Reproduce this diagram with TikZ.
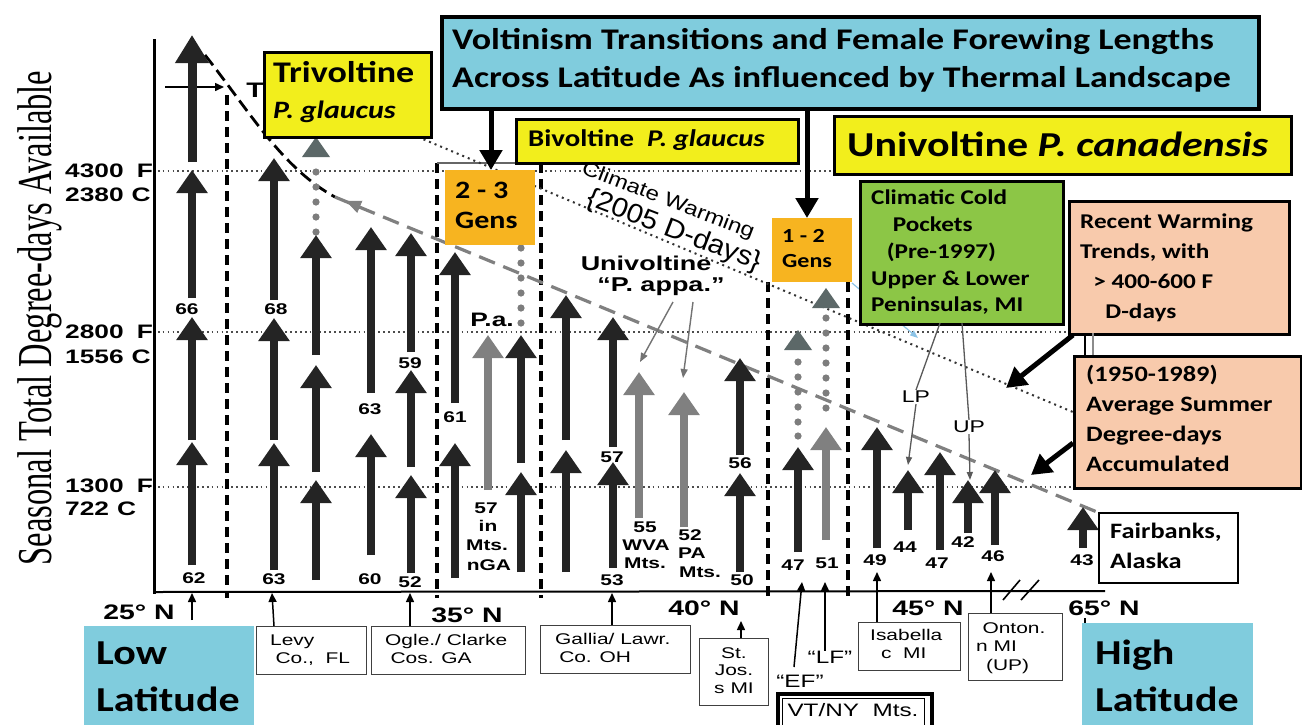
\documentclass[tikz,border=0pt]{standalone}
\usepackage{fontspec}
\usepackage{graphicx}
\setmainfont{Carlito}
\newfontfamily\arialf{Liberation Sans}
\newfontfamily\tnrf{Liberation Serif}
\usetikzlibrary{arrows.meta}
\definecolor{cyanbox}{RGB}{128,204,221}
\definecolor{yelbox}{RGB}{242,238,28}
\definecolor{orgbox}{RGB}{247,180,32}
\definecolor{grnbox}{RGB}{140,198,70}
\definecolor{pchbox}{RGB}{248,202,172}
\definecolor{darkarr}{RGB}{36,36,36}
\definecolor{grayarr}{RGB}{128,128,128}
\definecolor{trigray}{RGB}{92,104,104}
\definecolor{dotgray}{RGB}{125,125,125}
\definecolor{lblue}{RGB}{140,195,230}
\newcommand\fsz[2]{\fontsize{#1}{#2}\selectfont}
\newcommand\os[1]{\scalebox{1.35}[1]{#1}}
\newcommand\ns[1]{\scalebox{1.2}[1]{#1}}
\newcommand\ml[1]{\begin{tabular}{@{}l@{}}#1\end{tabular}}
\newcommand\mc[1]{\begin{tabular}{@{}c@{}}#1\end{tabular}}
\begin{document}
\begin{tikzpicture}[x=1pt,y=-1pt,
  garr/.style={draw=darkarr, line width=8.5pt, -{Triangle[width=30pt,length=23pt]}},
  gyarr/.style={draw=grayarr, line width=8.5pt, -{Triangle[width=30pt,length=23pt]}},
  num/.style={inner sep=0pt, font=\arialf\bfseries\fsz{15.5}{17}},
  oldtxt/.style={inner sep=0pt, font=\arialf\fsz{15.5}{18}},
  boldold/.style={inner sep=0pt, font=\arialf\bfseries\fsz{19.5}{20}},
  txt/.style={inner sep=0pt, anchor=west, font=\bfseries},
  cbox/.style={draw=black, line width=3pt, inner sep=0pt, anchor=north west},
  nbox/.style={inner sep=0pt, anchor=north west},
  lbox/.style={draw=black!75, line width=1.3pt, fill=white, inner sep=0pt, anchor=north west},
  vdash/.style={draw=black, line width=3.2pt, dash pattern=on 10pt off 6pt},
  hdot/.style={draw=black!70, line width=1.7pt, dash pattern=on 1.7pt off 3.2pt},
  cdot/.style={draw=black!80, line width=2pt, dash pattern=on 2pt off 4pt},
  thinarr/.style={draw=black, line width=1.5pt, -{Triangle[width=8pt,length=9pt]}},
  grayptr/.style={draw=black!55, line width=1.4pt, -{Triangle[width=7pt,length=9pt]}},
  bigarr/.style={draw=black, line width=5pt, -{Triangle[width=22pt,length=20pt]}}
]
\useasboundingbox (0,0) rectangle (1302,724);
\fill[white] (0,0) rectangle (1302,724);

% axis label
\node[rotate=90, inner sep=0pt] (ylab) at (40,318) {\tnrf\fsz{32.5}{34}\scalebox{1}[1.5]{Seasonal Total Degree-days Available}};

% horizontal dotted levels
\draw[hdot] (148,171) -- (835,171);
\draw[hdot] (148,332) -- (1092,332);
\draw[hdot] (148,487) -- (1092,487);

% tick labels
\node[boldold, anchor=west] (t4300) at (65,171) {\os{4300\hspace{0.5em}F}};
\node[boldold, anchor=west] (t2380) at (65,195) {\os{2380\hspace{0.3em}C}};
\node[boldold, anchor=west] (t2800) at (65,332) {\os{2800\hspace{0.5em}F}};
\node[boldold, anchor=west] (t1556) at (65,357) {\os{1556\hspace{0.3em}C}};
\node[boldold, anchor=west] (t1300) at (65,486) {\os{1300\hspace{0.5em}F}};
\node[boldold, anchor=west] (t722) at (65,509) {\os{722\hspace{0.3em}C}};

% axes
\draw[line width=3pt] (154,39) -- (154,594);
\draw[line width=2pt] (153,592) -- (1105,591);

% dashed verticals
\draw[vdash] (227,95) -- (227,598);
\draw[vdash] (437,163) -- (437,598);
\draw[vdash] (541,163) -- (541,598);
\draw[draw=black!60, line width=1.5pt] (437,163) -- (541,163);
\draw[vdash] (768,282) -- (768,598);
\draw[vdash] (848,282) -- (848,598);

% thermal boundary curves
\draw[line width=2.8pt, dash pattern=on 13pt off 6pt] (205,55) .. controls (250,112) and (282,168) .. (335,197);
\draw[draw=black!50, line width=3.2pt, dash pattern=on 17pt off 9pt] (335,197) -- (1097,512);
\draw[draw=black!50, line width=1pt, -{Triangle[width=13pt,length=15pt]}] (372,212) -- (346,201);

% climate warming dotted line
\draw[cdot] (418,137) -- (1080,415);

% top small arrow and T
\draw[thinarr] (165,87) -- (224,87);
\node[inner sep=0pt, font=\arialf\bfseries\fsz{21}{22}] (tlet) at (255,90) {\os{T}};

% ---------- generation arrows ----------
% col 1
\draw[draw=darkarr, line width=9pt, -{Triangle[width=32pt,length=28pt]}] (192,162) -- (192,35);
\draw[garr] (192,298) -- (192,170);
\draw[garr] (192,440) -- (192,317);
\draw[garr] (192,565) -- (192,442);
% col 2
\draw[garr] (274,300) -- (274,158);
\draw[garr] (274,440) -- (274,318);
\draw[garr] (274,570) -- (274,443);
% col 3
\fill[trigray] (302,157) -- (330,157) -- (316,137) -- cycle;
\foreach \yy in {172,187,202,217,232} \fill[dotgray] (316,\yy) circle (3.6pt);
\draw[garr] (316,355) -- (316,235);
\draw[garr] (316,472) -- (316,365);
\draw[garr] (316,580) -- (316,480);
% col 4
\draw[garr] (371,393) -- (371,227);
\draw[garr] (371,555) -- (371,434);
% col 5
\draw[garr] (411,352) -- (411,233);
\draw[garr] (411,467) -- (411,370);
\draw[garr] (411,573) -- (411,475);
% col 6
\draw[garr] (455,403) -- (455,252);
\draw[garr] (455,578) -- (455,443);
% col 7 gray
\draw[gyarr] (488,490) -- (488,335);
% col 8
\foreach \yy in {248,263,278,293,308,323} \fill[dotgray] (521,\yy) circle (3.6pt);
\draw[garr] (521,463) -- (521,335);
\draw[garr] (521,572) -- (521,472);
% col 9
\draw[garr] (566,440) -- (566,295);
\draw[garr] (566,572) -- (566,450);
% col 10
\draw[garr] (613,447) -- (613,317);
\draw[garr] (613,568) -- (613,462);
% col 11, 12 gray
\draw[gyarr] (639,518) -- (639,372);
\draw[gyarr] (684,527) -- (684,392);
% col 13
\draw[garr] (740,455) -- (740,358);
\draw[garr] (740,572) -- (740,473);
% col 14
\fill[trigray] (784,350) -- (812,350) -- (798,330) -- cycle;
\foreach \yy in {362,377,392,407,422,436} \fill[dotgray] (798,\yy) circle (3.6pt);
\draw[garr] (798,552) -- (798,447);
% col 15
\fill[trigray] (812,308) -- (840,308) -- (826,288) -- cycle;
\foreach \yy in {318,333,348,363,378,393,408} \fill[dotgray] (826,\yy) circle (3.6pt);
\draw[gyarr] (826,540) -- (826,427);
% cols 16-21
\draw[garr] (877,548) -- (877,427);
\draw[garr] (908,530) -- (908,470);
\draw[garr] (940,550) -- (940,452);
\draw[garr] (968,533) -- (968,480);
\draw[garr] (995,545) -- (995,470);
\draw[garr] (1083,548) -- (1083,507);

% ---------- numbers ----------
\node[num] (n66) at (187,309) {\os{66}};
\node[num] (n62) at (194,578) {\os{62}};
\node[num] (n68) at (276,309) {\os{68}};
\node[num] (n63a) at (274,579) {\os{63}};
\node[num] (n63b) at (370,409) {\os{63}};
\node[num] (n60) at (370,579) {\os{60}};
\node[num] (n59) at (410,363) {\os{59}};
\node[num] (n52a) at (410,582) {\os{52}};
\node[num] (n61) at (455,417) {\os{61}};
\node[num] (n57g) at (486,508) {\os{57}};
\node[num] (nin) at (488,526) {\os{in}};
\node[num] (nmts1) at (487,545) {\os{Mts.}};
\node[num] (nnga) at (489,565) {\os{nGA}};
\node[num] (n57) at (612,457) {\os{57}};
\node[num] (n53) at (612,580) {\os{53}};
\node[num] (n55) at (645,527) {\os{55}};
\node[num] (nwva) at (646,545) {\os{WVA}};
\node[num] (nmts2) at (645,563) {\os{Mts.}};
\node[num] (n52b) at (690,535) {\os{52}};
\node[num] (npa) at (692,553) {\os{PA}};
\node[num] (nmts3) at (700,572) {\os{Mts.}};
\node[num] (n56) at (740,463) {\os{56}};
\node[num] (n50) at (742,580) {\os{50}};
\node[num] (n47a) at (793,565) {\os{47}};
\node[num] (n51) at (827,563) {\os{51}};
\node[num] (n49) at (875,560) {\os{49}};
\node[num] (n44) at (905,547) {\os{44}};
\node[num] (n47b) at (937,563) {\os{47}};
\node[num] (n42) at (963,542) {\os{42}};
\node[num] (n46) at (993,556) {\os{46}};
\node[num] (n43) at (1082,560) {\os{43}};

% ---------- in-plot labels ----------
\node[boldold] (pa) at (492,320) {\os{P.a.}};
\node[boldold, font=\arialf\bfseries\fsz{20}{20}] (univ) at (646,263) {\os{Univoltine}};
\node[boldold, font=\arialf\bfseries\fsz{20}{20}] (pappa) at (661,287) {\os{“P. appa.”}};
\draw[grayptr] (673,302) -- (640,362);
\draw[grayptr] (693,302) -- (683,378);
\node[rotate=-21, inner sep=0pt] (cw) at (668,201) {\arialf\fsz{20}{20}\scalebox{1.2}[1]{Climate Warming}};
\node[rotate=-21, inner sep=0pt] (dd) at (674,231) {\arialf\fsz{27}{28}\scalebox{1.08}[1]{\{2005 D-days\}}};

% ---------- top boxes ----------
\node[cbox, fill=cyanbox, line width=3.5pt, minimum width=817pt, minimum height=92pt] (title) at (440,15) {};
\node[txt] (titletxt) at (452,61) {\fsz{30}{38}\ns{\ml{Voltinism Transitions and Female Forewing Lengths\\Across Latitude As influenced by Thermal Landscape}}};
\draw[bigarr] (491,107) -- (491,170);
\draw[bigarr] (807,107) -- (807,218);

\node[cbox, fill=yelbox, line width=2.5pt, minimum width=167pt, minimum height=85pt] (tri) at (263,51) {};
\node[txt] (tritxt) at (273,93) {\fsz{30}{36}\ns{\ml{Trivoltine\\{\fsz{25}{36}\itshape P. glaucus}}}};

\node[cbox, fill=yelbox, line width=2.5pt, minimum width=282pt, minimum height=44pt] (bi) at (515,118) {};
\node[txt] (bitxt) at (528,140) {\fsz{24}{28}\ns{Bivoltine\ \ {\itshape P. glaucus}}};

\node[cbox, fill=yelbox, line width=3pt, minimum width=457pt, minimum height=58pt] (uni) at (833,115) {};
\node[txt] (unitxt) at (847,144) {\fsz{35}{40}\ns{Univoltine {\itshape P. canadensis}}};

\node[nbox, fill=orgbox, minimum width=90pt, minimum height=75pt] (g23) at (445,170) {};
\node[txt] (g23txt) at (455,207) {\fsz{25}{30}\ns{\ml{2 - 3\\Gens}}};

\node[nbox, fill=orgbox, minimum width=80pt, minimum height=64pt] (g12) at (772,218) {};
\node[txt] (g12txt) at (782,250) {\fsz{20}{25}\ns{\ml{1 - 2\\Gens}}};

% green box and its pointers
\draw[draw=lblue, line width=1.2pt, -{Triangle[width=6pt,length=8pt]}] (852,283) -- (918,338);
\node[cbox, fill=grnbox, line width=2.5pt, minimum width=203pt, minimum height=143pt] (green) at (859,180) {};
\node[txt] (greentxt) at (871,253) {\fsz{21}{26.7}\ns{\ml{Climatic Cold\\\hspace{18pt}Pockets\\\hspace{13pt}(Pre-1997)\\Upper \& Lower\\Peninsulas, MI}}};
\node[inner sep=1pt, font=\arialf\fsz{17}{18}] (lp) at (916,397) {\os{LP}};
\node[inner sep=1pt, font=\arialf\fsz{17}{18}] (up) at (969,427) {\os{UP}};
\draw[draw=black!65, line width=1.3pt] (940,323) -- (lp.north);
\draw[draw=black!65, line width=1.3pt, -{Triangle[width=6pt,length=8pt]}] (lp.south) -- (908,465);
\draw[draw=black!65, line width=1.3pt] (962,323) -- (up.north);
\draw[draw=black!65, line width=1.3pt, -{Triangle[width=6pt,length=8pt]}] (up.south) -- (970,480);

% peach boxes
\node[cbox, fill=pchbox, minimum width=220pt, minimum height=133pt] (recent) at (1068,200) {};
\node[txt] (recenttxt) at (1080,267) {\fsz{21}{30}\ns{\ml{Recent Warming\\Trends, with\\\hspace{11pt}> 400-600 F\\\hspace{21pt}D-days}}};
\draw[line width=1.5pt] (1085,333) -- (1085,355);
\draw[draw=black!45, line width=1.2pt] (1093,333) -- (1093,355);
\node[cbox, fill=pchbox, minimum width=227pt, minimum height=132pt] (avg) at (1073,355) {};
\node[txt] (avgtxt) at (1086,420) {\fsz{22}{30}\ns{\ml{(1950-1989)\\Average Summer\\Degree-days\\Accumulated}}};
\draw[bigarr] (1073,335) -- (1006,388);
\draw[bigarr] (1073,443) -- (1031,475);

\node[cbox, fill=white, line width=2pt, minimum width=139pt, minimum height=70pt] (fair) at (1098,512) {};
\node[txt] (fairtxt) at (1110,547) {\fsz{22}{30}\ns{\ml{Fairbanks,\\Alaska}}};

% ---------- bottom ----------
\node[boldold, font=\arialf\bfseries\fsz{21}{22}] (l25) at (139,612) {\os{25° N}};
\node[boldold, font=\arialf\bfseries\fsz{21}{22}] (l35) at (467,615) {\os{35° N}};
\node[boldold, font=\arialf\bfseries\fsz{21}{22}] (l40) at (704,608) {\os{40° N}};
\node[boldold, font=\arialf\bfseries\fsz{21}{22}] (l45) at (928,608) {\os{45° N}};
\node[boldold, font=\arialf\bfseries\fsz{21}{22}] (l65) at (1104,608) {\os{65° N}};
\draw[line width=1.2pt] (1085,618) -- (1085,624);
\draw[line width=1.6pt] (1003,600) -- (1020,580);
\draw[line width=1.6pt] (1021,600) -- (1039,580);

\node[nbox, fill=cyanbox, minimum width=170pt, minimum height=100pt] (low) at (84,626) {};
\node[txt] (lowtxt) at (96,679) {\fsz{35}{47}\ns{\ml{Low\\Latitude}}};
\node[nbox, fill=cyanbox, minimum width=171pt, minimum height=103pt] (high) at (1082,623) {};
\node[txt] (hightxt) at (1095,679) {\fsz{35}{47}\ns{\ml{High\\Latitude}}};

\node[lbox, minimum width=110pt, minimum height=48pt] (levy) at (256,626) {};
\node[oldtxt, anchor=west] (levytxt) at (270,651) {\os{\ml{Levy\\\hspace{4pt}Co.,\ \ FL}}};
\node[lbox, minimum width=154pt, minimum height=48pt] (ogle) at (371,626) {};
\node[oldtxt, anchor=west] (ogletxt) at (385,651) {\os{\ml{Ogle./ Clarke\\\hspace{4pt}Cos. GA}}};
\node[lbox, minimum width=150pt, minimum height=48pt] (gallia) at (540,625) {};
\node[oldtxt, anchor=west] (galliatxt) at (555,650) {\os{\ml{Gallia/ Lawr.\\\hspace{3pt}Co. OH}}};
\node[lbox, minimum width=69pt, minimum height=67pt] (stjos) at (699,638) {};
\node[oldtxt, font=\arialf\fsz{15.5}{17.5}] (stjostxt) at (734,672) {\os{\mc{St.\\Jos.\\s MI}}};
\node[lbox, minimum width=102pt, minimum height=48pt] (isab) at (858,622) {};
\node[oldtxt, anchor=west] (isabtxt) at (870,646) {\os{\ml{Isabella\\\hspace{8pt}c\ \ MI}}};
\node[lbox, minimum width=94pt, minimum height=67pt] (onton) at (968,613) {};
\node[oldtxt, anchor=west, font=\arialf\fsz{15.5}{18.5}] (ontontxt) at (976,648) {\os{\ml{\hspace{4.7pt}Onton.\\n MI\\\hspace{7.3pt}(UP)}}};

\node[inner sep=0pt, font=\arialf\fsz{18}{18}] (lf) at (830,657) {\os{“LF”}};
\node[inner sep=0pt, font=\arialf\fsz{18}{18}] (ef) at (800,681) {\os{“EF”}};

\node[nbox, draw=black, line width=4pt, fill=white, minimum width=154pt, minimum height=42pt] (vtny) at (776,692) {};
\draw[line width=1pt] (782,698) rectangle (924,730);
\node[inner sep=0pt, font=\arialf\fsz{18}{18}] (vtnytxt) at (853,710) {\os{VT/NY\ \ Mts.}};

% location pointers
\draw[thinarr] (192,620) -- (192,593);
\draw[thinarr] (levy.north west) ++(18,0) -- (272,593);
\draw[thinarr] (410,626) -- (410,593);
\draw[thinarr] (612,625) -- (612,593);
\draw[thinarr] (741,638) -- (741,621);
\draw[thinarr] (794,667) -- (802,582);
\draw[thinarr] (lf.north -| 825,0) -- (825,582);
\draw[thinarr] (877,622) -- (877,572);
\draw[thinarr] (991,613) -- (991,572);
\end{tikzpicture}
\end{document}
